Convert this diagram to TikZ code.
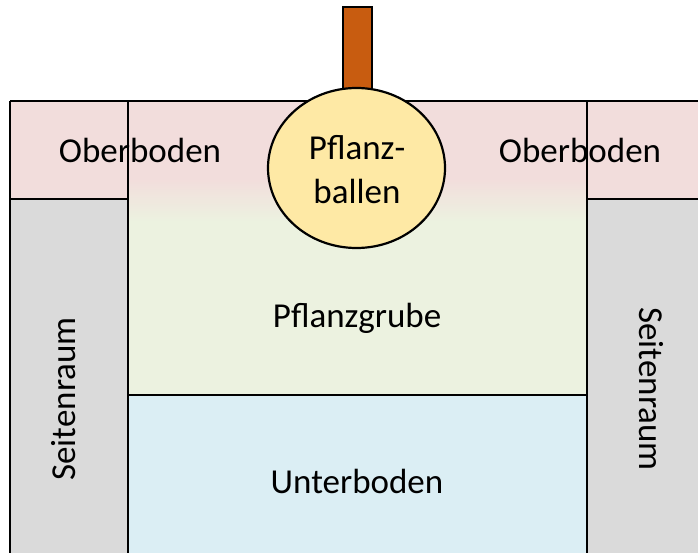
\documentclass[tikz,border=0pt]{standalone}
\usepackage{fontspec}
\setmainfont{Carlito}
\usetikzlibrary{shapes.geometric}
\definecolor{pinkfill}{RGB}{242,221,220}
\definecolor{grayfill}{RGB}{218,218,218}
\definecolor{greenfill}{RGB}{236,242,224}
\definecolor{bluefill}{RGB}{219,238,244}
\definecolor{ballfill}{RGB}{254,233,165}
\definecolor{stakefill}{RGB}{200,92,16}
\tikzset{
  lbl/.style={font=\fontsize{35}{44}\selectfont, text=black, inner sep=0pt, align=center},
  edge/.style={line width=2.2pt, black}
}
\begin{document}
\begin{tikzpicture}[x=1pt,y=-1pt]
\useasboundingbox (0,0) rectangle (698,553);
% fills
\fill[pinkfill] (10,101) rectangle (698,199);
\fill[grayfill] (10,199) rectangle (128,553);
\fill[grayfill] (587,199) rectangle (698,553);
\fill[greenfill] (128,199) rectangle (587,395);
\shade[top color=pinkfill, bottom color=greenfill] (128,178) rectangle (587,222);
\fill[bluefill] (128,395) rectangle (587,553);
% lines
\coordinate (tl) at (10,101);
\coordinate (tr) at (698,101);
\coordinate (bl) at (10,553);
\coordinate (lc) at (128,101);
\coordinate (lcb) at (128,553);
\coordinate (rc) at (587,101);
\coordinate (rcb) at (587,553);
\coordinate (lh1) at (10,199);
\coordinate (lh2) at (128,199);
\coordinate (rh1) at (587,199);
\coordinate (rh2) at (698,199);
\coordinate (mh1) at (128,395);
\coordinate (mh2) at (587,395);
\draw[edge] (tl) -- (tr);
\draw[edge] (tl) -- (bl);
\draw[edge] (lc) -- (lcb);
\draw[edge] (rc) -- (rcb);
\draw[edge] (lh1) -- (lh2);
\draw[edge] (rh1) -- (rh2);
\draw[edge] (mh1) -- (mh2);
% stake and ball
\node[draw, line width=2.2pt, fill=stakefill, minimum width=29pt, minimum height=90pt, inner sep=0pt] (stake) at (357.5,52) {};
\node[ellipse, draw, line width=2.2pt, fill=ballfill, minimum width=177pt, minimum height=160pt, inner sep=0pt] (ball) at (356.5,168) {};
% labels
\node[lbl] (ob1) at (140,150) {Oberboden};
\node[lbl] (ob2) at (580,150) {Oberboden};
\node[lbl] (pb) at (357,170) {Pflanz-\\ballen};
\node[lbl] (pg) at (357,318) {Pflanzgrube};
\node[lbl] (ub) at (357,481) {Unterboden};
\node[lbl, rotate=90] (sl) at (64,399) {Seitenraum};
\node[lbl, rotate=-90] (sr) at (651,389) {Seitenraum};
\end{tikzpicture}
\end{document}
